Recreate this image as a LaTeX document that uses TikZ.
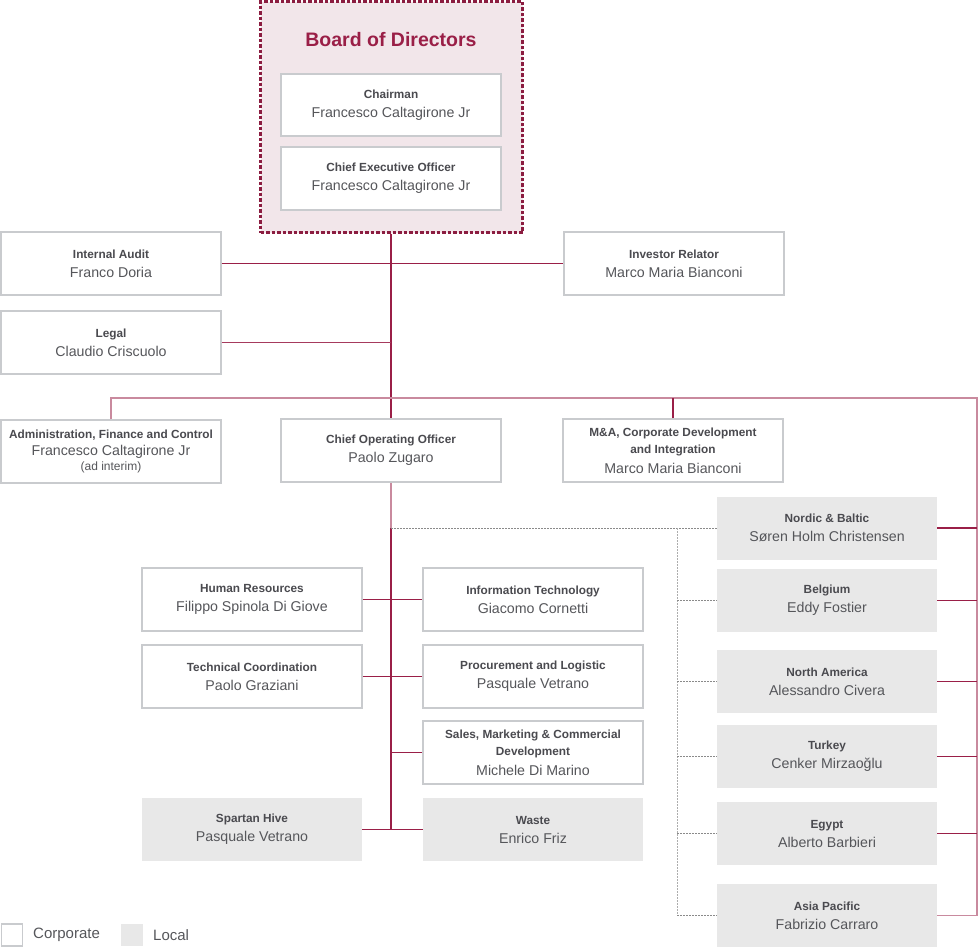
\documentclass[tikz,border=0pt]{standalone}
\usepackage{fontspec}
\setmainfont{Liberation Sans}
\definecolor{dred}{HTML}{9A1F47}
\definecolor{pinkl}{HTML}{C98A9E}
\definecolor{bord}{HTML}{C9CBCE}
\definecolor{lgray}{HTML}{E8E8E8}
\definecolor{boardfill}{HTML}{F2E6EA}
\definecolor{txt}{HTML}{4A4A4F}
\definecolor{txtn}{HTML}{55565A}
\definecolor{dotc}{HTML}{8A8A8A}
\newcommand{\ttl}[1]{{\fontsize{11.8}{15}\selectfont\bfseries\color{txt} #1}}
\newcommand{\nmm}[1]{{\fontsize{14.2}{19}\selectfont #1}}
\begin{document}
\begin{tikzpicture}[x=1pt,y=-1pt,
  boxbase/.style={minimum width=220pt,minimum height=63pt,inner sep=0pt,align=center,text=txtn,font=\fontsize{14.2}{19}\selectfont},
  corp/.style={boxbase,draw=bord,line width=1.4pt,fill=white},
  local/.style={boxbase,fill=lgray},
  redline/.style={draw=dred,line width=1.1pt},
  pinkline/.style={draw=pinkl,line width=1.7pt},
  dotline/.style={draw=dotc,line width=0.9pt,dash pattern=on 1.5pt off 1.5pt},
  dotvert/.style={draw=dotc!70,line width=1pt,dash pattern=on 1.5pt off 1.5pt}]
\useasboundingbox (0,0) rectangle (979,948);
% Board
\node[draw=dred!90!black,line width=2.2pt,dash pattern=on 3.5pt off 2pt,fill=boardfill,minimum width=262pt,minimum height=231pt,inner sep=0pt] (board) at (391.5,117) {};
\node[text=dred,font=\fontsize{19.5}{22}\selectfont\bfseries] (boardt) at (391,40) {Board of Directors};
\node[corp,minimum height=62pt] (chair) at (391,105) {\ttl{Chairman}\\\nmm{Francesco Caltagirone Jr}};
\node[corp] (ceo) at (391,178.5) {\ttl{Chief Executive Officer}\\\nmm{Francesco Caltagirone Jr}};
% Staff
\node[corp] (ia) at (111,263.5) {\ttl{Internal Audit}\\\nmm{Franco Doria}};
\node[corp] (ir) at (674,263.5) {\ttl{Investor Relator}\\\nmm{Marco Maria Bianconi}};
\node[corp] (legal) at (111,342.5) {\ttl{Legal}\\\nmm{Claudio Criscuolo}};
\node[corp] (admin) at (111,451.5) {\ttl{Administration, Finance and Control}\\[-2pt]\nmm{Francesco Caltagirone Jr}\\[-4pt]{\fontsize{12}{14}\selectfont (ad interim)}};
\node[corp] (coo) at (391,450.5) {\ttl{Chief Operating Officer}\\\nmm{Paolo Zugaro}};
\node[corp] (ma) at (673,450.5) {\ttl{M\&A, Corporate Development}\\[-2pt]\ttl{and Integration}\\[1pt]\nmm{Marco Maria Bianconi}};
% Countries
\node[local] (nordic) at (827,528) {\ttl{Nordic \& Baltic}\\\nmm{Søren Holm Christensen}};
\node[local] (belgium) at (827,600.5) {\ttl{Belgium}\\\nmm{Eddy Fostier}};
\node[local] (na) at (827,681.5) {\ttl{North America}\\\nmm{Alessandro Civera}};
\node[local] (turkey) at (827,756.5) {\ttl{Turkey}\\\nmm{Cenker Mirzaoğlu}};
\node[local] (egypt) at (827,833.5) {\ttl{Egypt}\\\nmm{Alberto Barbieri}};
\node[local] (asia) at (827,915.5) {\ttl{Asia Pacific}\\\nmm{Fabrizio Carraro}};
% COO functions
\node[corp] (hr) at (252,599.5) {\ttl{Human Resources}\\\nmm{Filippo Spinola Di Giove}};
\node[corp] (it) at (533,599.5) {\ttl{Information Technology}\\\nmm{Giacomo Cornetti}};
\node[corp] (tc) at (252,676.5) {\ttl{Technical Coordination}\\\nmm{Paolo Graziani}};
\node[corp] (proc) at (533,676.5) {\ttl{Procurement and Logistic}\\\nmm{Pasquale Vetrano}};
\node[corp] (sales) at (533,752.5) {\ttl{Sales, Marketing \& Commercial}\\[-2pt]\ttl{Development}\\[1pt]\nmm{Michele Di Marino}};
\node[local] (spartan) at (252,829.5) {\ttl{Spartan Hive}\\\nmm{Pasquale Vetrano}};
\node[local] (waste) at (533,829.5) {\ttl{Waste}\\\nmm{Enrico Friz}};
% Legend
\node[draw=bord,line width=1.2pt,fill=white,minimum width=21pt,minimum height=22pt,inner sep=0pt] (lgc) at (12,935) {};
\node[anchor=west,text=txtn,font=\fontsize{15}{18}\selectfont,inner sep=0pt] (lgct) at (33,935) {Corporate};
\node[fill=lgray,minimum width=22pt,minimum height=22pt,inner sep=0pt] (lgl) at (132,935) {};
\node[anchor=west,text=txtn,font=\fontsize{15}{18}\selectfont,inner sep=0pt] (lglt) at (153,935) {Local};
% Coordinates
\coordinate (hl) at (111,398);
\coordinate (hr2) at (977,398);
\coordinate (cooj) at (391,528);
\coordinate (dv) at (677,528);
% Connectors
\draw[redline] (board.south -| coo.north) -- (coo.north);
\draw[redline] (ia.east) -- (ir.west);
\draw[draw=dred!75!pinkl,line width=1.3pt] (legal.east) -- (legal.east -| coo.north);
\draw[pinkline] (admin.north) -- (hl) -- (hr2) -- (hr2 |- asia.east) -- (asia.east);
\draw[redline] (ma.north) -- (ma.north |- hl);
\foreach \n in {nordic,belgium,na,turkey,egypt}{
  \draw[redline] (\n.east) -- (\n.east -| hr2);
}
\draw[pinkline] (coo.south) -- (cooj);
\draw[redline] (cooj) -- (cooj |- spartan.east);
\draw[dotline] (cooj) -- (nordic.west);
\draw[dotvert] (dv) -- (dv |- asia.west);
\foreach \n in {belgium,na,turkey,egypt,asia}{
  \draw[dotline] (dv |- \n.west) -- (\n.west);
}
\draw[redline] (hr.east) -- (it.west);
\draw[redline] (tc.east) -- (proc.west);
\draw[redline] (sales.west -| cooj) -- (sales.west);
\draw[redline] (spartan.east) -- (waste.west);
\end{tikzpicture}
\end{document}
